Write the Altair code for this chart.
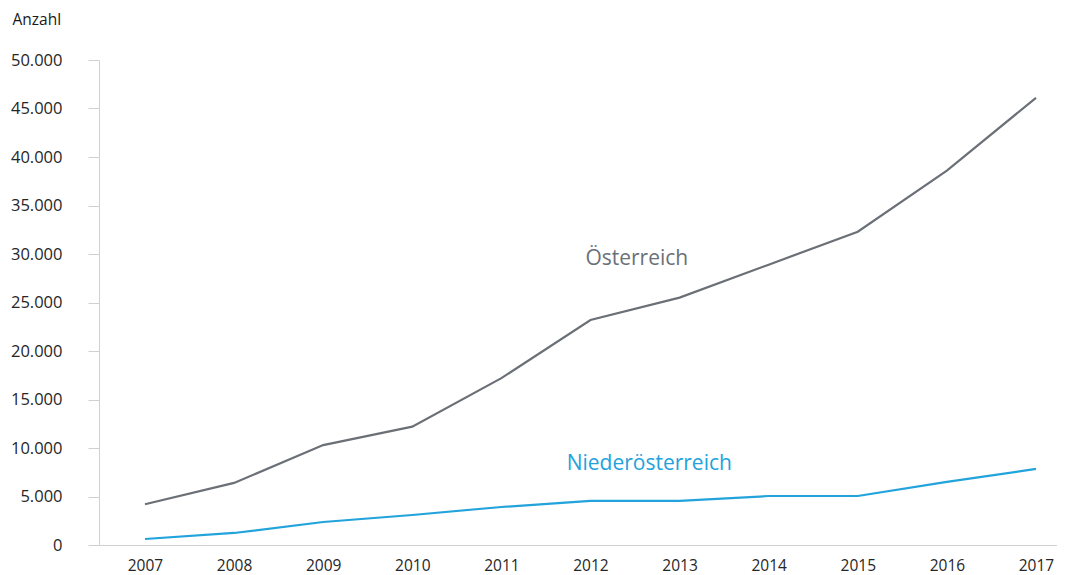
import altair as alt
import pandas as pd

years = [2007, 2008, 2009, 2010, 2011, 2012, 2013, 2014, 2015, 2016, 2017]
oesterreich = [4200, 6400, 10300, 12200, 17200, 23200, 25500, 28900, 32300, 38600, 46100]
niederoesterreich = [620, 1240, 2370, 3090, 3920, 4540, 4540, 5050, 5050, 6500, 7840]
series_names = ["Österreich", "Niederösterreich"]
series_colors = ["#6b7077", "#22a3db"]
y_ticks = [0, 5000, 10000, 15000, 20000, 25000, 30000, 35000, 40000, 45000, 50000]

label_text = ["Österreich", "Niederösterreich"]
label_year = [2012.52, 2012.66]
label_value = [29500, 8350]

df = pd.DataFrame(
    {"Jahr": years * 2,
     "Anzahl": oesterreich + niederoesterreich,
     "Serie": [series_names[0]] * len(years) + [series_names[1]] * len(years)}
)
lab = pd.DataFrame({"Jahr": label_year, "Anzahl": label_value, "Serie": label_text})

FONT = "Open Sans"
xscale = alt.Scale(domain=[2006.484, 2017.236], nice=False, zero=False)
yscale = alt.Scale(domain=[0, 50000], nice=False)
color = alt.Color("Serie:N", scale=alt.Scale(domain=series_names, range=series_colors), legend=None)

lines = alt.Chart(df).mark_line(strokeWidth=2.2).encode(
    x=alt.X("Jahr:Q", scale=xscale,
            axis=alt.Axis(values=years, format="d", title=None, grid=False, ticks=False,
                          domainColor="#d0d0d0", labelColor="#262626", labelFontSize=15.5,
                          labelFont=FONT, labelPadding=13, labelFlush=False)),
    y=alt.Y("Anzahl:Q", scale=yscale,
            axis=alt.Axis(values=y_ticks, grid=False, tickSize=11, tickColor="#d0d0d0",
                          domainColor="#d0d0d0", labelColor="#262626", labelFontSize=16.5,
                          labelFont=FONT, labelPadding=26,
                          labelExpr="replace(format(datum.value, ','), ',', '.')",
                          title="Anzahl", titleAngle=0, titleAlign="left", titleBaseline="middle",
                          titleX=-87, titleY=-41, titleFont=FONT, titleFontSize=15.5,
                          titleFontWeight="normal", titleColor="#1a1a1a")),
    color=color,
)

labels = alt.Chart(lab).mark_text(font=FONT, fontSize=21, align="center", baseline="middle").encode(
    x=alt.X("Jahr:Q", scale=xscale),
    y=alt.Y("Anzahl:Q", scale=yscale),
    text="Serie:N",
    color=color,
)

chart = (lines + labels).properties(
    width=958, height=485,
    autosize=alt.AutoSizeParams(type="none"),
    padding={"left": 91, "top": 52, "right": 0, "bottom": 30},
).configure_view(stroke=None)

chart.save("out.html", embed_options={"renderer": "svg", "actions": False})
